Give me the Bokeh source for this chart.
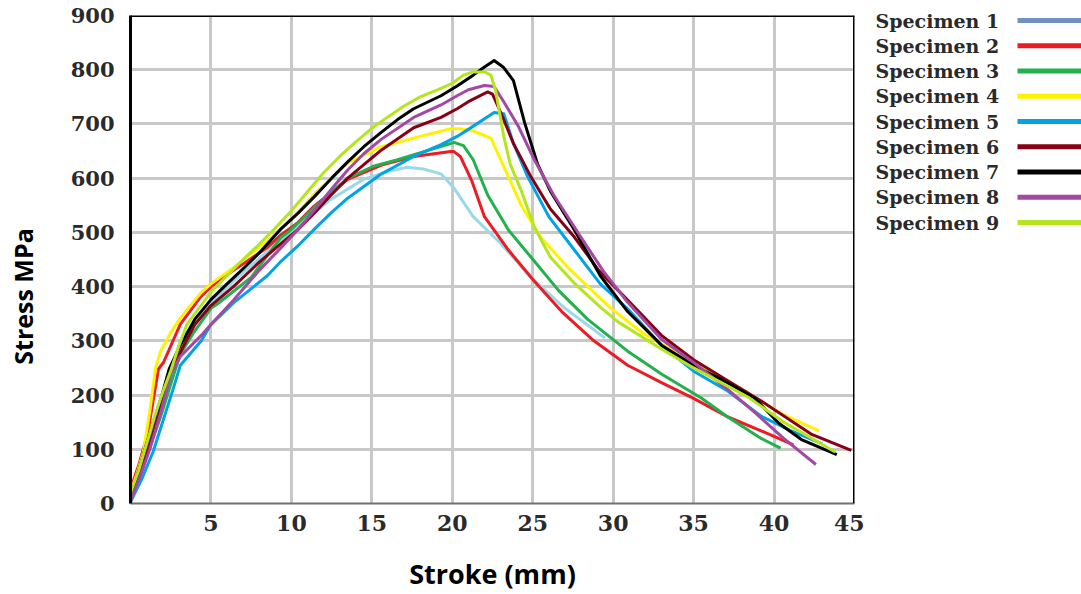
from bokeh.plotting import figure
from bokeh.models import Range1d, FixedTicker, Span
from bokeh.layouts import row
from bokeh.embed import file_html
from bokeh.resources import INLINE
from bokeh.core.properties import value
import math

# ---------------- data ----------------
labels = ["Specimen 1", "Specimen 2", "Specimen 3", "Specimen 4", "Specimen 5",
          "Specimen 6", "Specimen 7", "Specimen 8", "Specimen 9"]
line_colors = ["#99d9ea", "#ed1c24", "#22b14c", "#fff200", "#00a2e8",
               "#880015", "#000000", "#a349a4", "#b5e61d"]
legend_colors = ["#7092be", "#ed1c24", "#22b14c", "#fff200", "#00a2e8",
                 "#880015", "#000000", "#a349a4", "#b5e61d"]

s1_x = [0, 0.6, 1.2, 1.9, 2.5, 3.1, 4.4, 5.0, 6.4, 8.5, 10.4, 12.4, 14.5, 16.0, 17.2, 18.2, 19.3, 20.1, 21.3, 23.0, 24.9, 27.0, 29.5]
s1_y = [0, 50, 110, 180, 240, 300, 350, 368, 410, 465, 510, 560, 598, 612, 620, 617, 608, 582, 529, 480, 417, 360, 305]

s2_x = [0, 0.5, 1.06, 1.74, 2.05, 3.1, 4.36, 5.0, 6.4, 8.5, 9.33, 10.4, 11.4, 13.5, 15.6, 17.6, 19.9, 20.1, 20.5, 21.2, 22.0, 23.5, 25.1, 26.8, 28.8, 30.9, 33.0, 35.0, 37.1, 39.2, 41.2]
s2_y = [26, 70, 128, 248, 260, 331, 381, 400, 430, 472, 495, 518, 548, 598, 624, 640, 649, 649, 640, 596, 529, 467, 410, 354, 300, 255, 223, 194, 160, 134, 108]

s3_x = [0, 0.8, 1.87, 2.5, 3.1, 3.9, 5.0, 5.4, 7.5, 9.33, 9.8, 11.4, 13.5, 15.1, 16.6, 18.7, 19.9, 20.1, 20.7, 21.3, 22.2, 23.5, 24.9, 26.6, 28.4, 30.9, 33.0, 35.5, 37.1, 39.2, 40.4]
s3_y = [9, 70, 160, 220, 276, 314, 360, 368, 417, 490, 500, 545, 600, 622, 634, 653, 664, 666, 660, 634, 569, 504, 454, 393, 340, 281, 239, 194, 160, 120, 102]

s4_x = [0, 0.4, 0.8, 1.2, 1.56, 1.87, 2.5, 3.1, 4.36, 5.0, 6.4, 8.5, 9.33, 10.4, 11.4, 13.5, 15.6, 18.0, 19.9, 20.5, 21.3, 22.4, 23.5, 24.3, 25.5, 27.2, 29.1, 29.9, 31.9, 35.0, 38.0, 40.5, 42.8]
s4_y = [20, 55, 95, 170, 250, 281, 315, 342, 388, 405, 435, 484, 505, 537, 570, 628, 658, 677, 691, 691, 687, 674, 602, 549, 491, 435, 381, 359, 313, 260, 210, 165, 134]

s5_x = [0, 0.7, 1.4, 2.1, 2.7, 3.1, 4.4, 5.0, 6.4, 8.5, 9.3, 10.4, 11.4, 12.5, 13.5, 15.6, 17.6, 19.3, 20.3, 21.0, 22.6, 23.2, 23.8, 24.7, 26.0, 27.6, 29.2, 30.9, 33.0, 35.0, 37.1, 39.2, 41.0, 43.0]
s5_y = [3, 45, 95, 160, 216, 255, 300, 330, 370, 420, 445, 475, 505, 537, 563, 608, 640, 662, 677, 690, 721, 719, 664, 602, 529, 467, 405, 359, 292, 244, 208, 161, 135, 110]

s6_x = [0, 0.6, 1.3, 2.0, 2.6, 3.2, 4.0, 5.0, 6.4, 8.0, 9.3, 10.4, 11.4, 12.5, 13.5, 15.6, 17.6, 19.3, 20.3, 21.0, 22.2, 22.5, 23.0, 23.8, 24.9, 26.1, 27.6, 29.1, 30.9, 33.0, 35.0, 37.1, 39.2, 42.3, 44.8]
s6_y = [8, 60, 120, 190, 250, 285, 330, 365, 400, 445, 478, 505, 535, 570, 600, 652, 693, 712, 728, 741, 759, 755, 722, 664, 602, 543, 491, 430, 375, 310, 265, 227, 189, 128, 98]

s7_x = [0, 0.6, 1.2, 1.9, 2.4, 3.1, 4.0, 5.0, 6.0, 7.0, 8.0, 9.3, 10.4, 11.4, 12.5, 13.5, 14.5, 15.6, 16.6, 17.6, 19.3, 20.3, 21.3, 22.0, 22.4, 22.6, 23.2, 23.8, 24.5, 25.3, 26.1, 27.6, 29.2, 30.9, 33.0, 35.0, 37.1, 38.8, 40.3, 41.7, 43.9]
s7_y = [10, 70, 130, 194, 248, 292, 340, 376, 405, 433, 462, 505, 535, 565, 600, 630, 658, 685, 708, 728, 752, 770, 790, 805, 813, 817, 804, 780, 702, 626, 576, 504, 420, 354, 292, 255, 223, 194, 148, 118, 90]

s8_x = [0, 0.6, 1.2, 1.9, 2.5, 3.1, 4.4, 5.0, 6.4, 8.0, 9.3, 10.4, 11.4, 12.5, 13.5, 14.5, 15.6, 17.6, 19.3, 20.3, 21.0, 22.0, 22.6, 23.2, 24.1, 25.1, 26.3, 28.0, 29.4, 30.9, 33.0, 35.0, 37.1, 38.8, 40.6, 42.6]
s8_y = [5, 50, 100, 170, 239, 271, 310, 330, 375, 430, 470, 505, 540, 580, 615, 645, 672, 712, 735, 752, 763, 771, 769, 741, 696, 634, 569, 491, 428, 371, 303, 260, 211, 168, 120, 72]

s9_x = [0, 0.5, 1.0, 1.5, 2.0, 2.5, 3.0, 3.5, 4.0, 5, 6, 7, 8, 9, 10, 11, 12, 13, 14, 15, 16, 17, 18, 19, 20, 20.7, 21.3, 22.0, 22.4, 22.7, 23.2, 23.6, 24.3, 25.1, 26.1, 27.6, 29.2, 30.3, 33.0, 35.0, 38.4, 40.6, 43.8]
s9_y = [20, 60, 110, 160, 205, 245, 290, 330, 350, 390, 420, 450, 478, 508, 540, 575, 610, 640, 667, 692, 713, 733, 750, 762, 775, 790, 796, 796, 790, 761, 677, 626, 576, 510, 454, 406, 362, 335, 285, 250, 196, 150, 95]

xs = [s1_x, s2_x, s3_x, s4_x, s5_x, s6_x, s7_x, s8_x, s9_x]
ys = [s1_y, s2_y, s3_y, s4_y, s5_y, s6_y, s7_y, s8_y, s9_y]

x_ticks = [5, 10, 15, 20, 25, 30, 35, 40, 45]
y_ticks = [0, 100, 200, 300, 400, 500, 600, 700, 800, 900]

H = 594

# ---------------- y-axis title panel ----------------
lab = figure(width=40, height=H, x_range=Range1d(0, 40), y_range=Range1d(H, 0),
             toolbar_location=None, output_backend="svg", min_border=0, frame_align=False)
lab.axis.visible = False
lab.grid.visible = False
lab.outline_line_color = None
lab.text(x=[22], y=[296], text=["Stress MPa"], angle=math.pi / 2,
         text_align="center", text_baseline="middle",
         text_font=value("Open Sans"), text_font_style="bold",
         text_font_size="25px", text_color="#000000")

# ---------------- main plot ----------------
p = figure(width=824, height=H, x_range=Range1d(0, 45), y_range=Range1d(0, 900),
           toolbar_location=None, output_backend="svg",
           min_border_left=90, min_border_right=10, min_border_top=15, min_border_bottom=89)
p.outline_line_color = None
p.background_fill_color = "white"
p.border_fill_color = "white"

p.xaxis.ticker = FixedTicker(ticks=x_ticks)
p.yaxis.ticker = FixedTicker(ticks=y_ticks)
p.grid.grid_line_color = "#c8c8c8"
p.grid.grid_line_width = 3

for ax in (p.xaxis[0], p.yaxis[0]):
    ax.major_tick_line_color = None
    ax.minor_tick_line_color = None
    ax.major_label_text_font = "DejaVu Serif"
    ax.major_label_text_font_style = "bold"
    ax.major_label_text_color = "#2a2a2a"
    ax.axis_label_text_font = "Open Sans"
    ax.axis_label_text_font_style = "bold"
    ax.axis_label_text_color = "#000000"

p.xaxis.major_label_text_font_size = "22px"
p.yaxis.major_label_text_font_size = "21px"
p.xaxis.major_label_standoff = 5
p.yaxis.major_label_standoff = 10
p.yaxis.axis_line_color = "black"
p.yaxis.axis_line_width = 3
p.xaxis.axis_line_color = "#707070"
p.xaxis.axis_line_width = 2

p.xaxis.axis_label = "Stroke (mm)"
p.xaxis.axis_label_text_font_size = "27px"
p.xaxis.axis_label_standoff = 21

p.add_layout(Span(location=900, dimension="width", line_color="black", line_width=3))
p.add_layout(Span(location=45, dimension="height", line_color="black", line_width=3))

for x, y, c in zip(xs, ys, line_colors):
    p.line(x, y, line_color=c, line_width=3, line_join="round")

# ---------------- legend panel ----------------
LW = 217
leg = figure(width=LW, height=H, x_range=Range1d(0, LW), y_range=Range1d(H, 0),
             toolbar_location=None, output_backend="svg", min_border=0, frame_align=False)
leg.axis.visible = False
leg.grid.visible = False
leg.outline_line_color = None

rows = [20 + 25.25 * i for i in range(len(labels))]
leg.text(x=[11] * len(labels), y=rows, text=labels, text_font=value("DejaVu Serif"),
         text_font_style="bold", text_font_size="19px", text_baseline="middle",
         text_color="#2a2a2a")
leg.segment(x0=[153] * len(labels), x1=[LW] * len(labels), y0=rows, y1=rows,
            line_color=legend_colors, line_width=5)

layout = row(lab, p, leg)
open("out.html", "w").write(file_html(layout, INLINE))
